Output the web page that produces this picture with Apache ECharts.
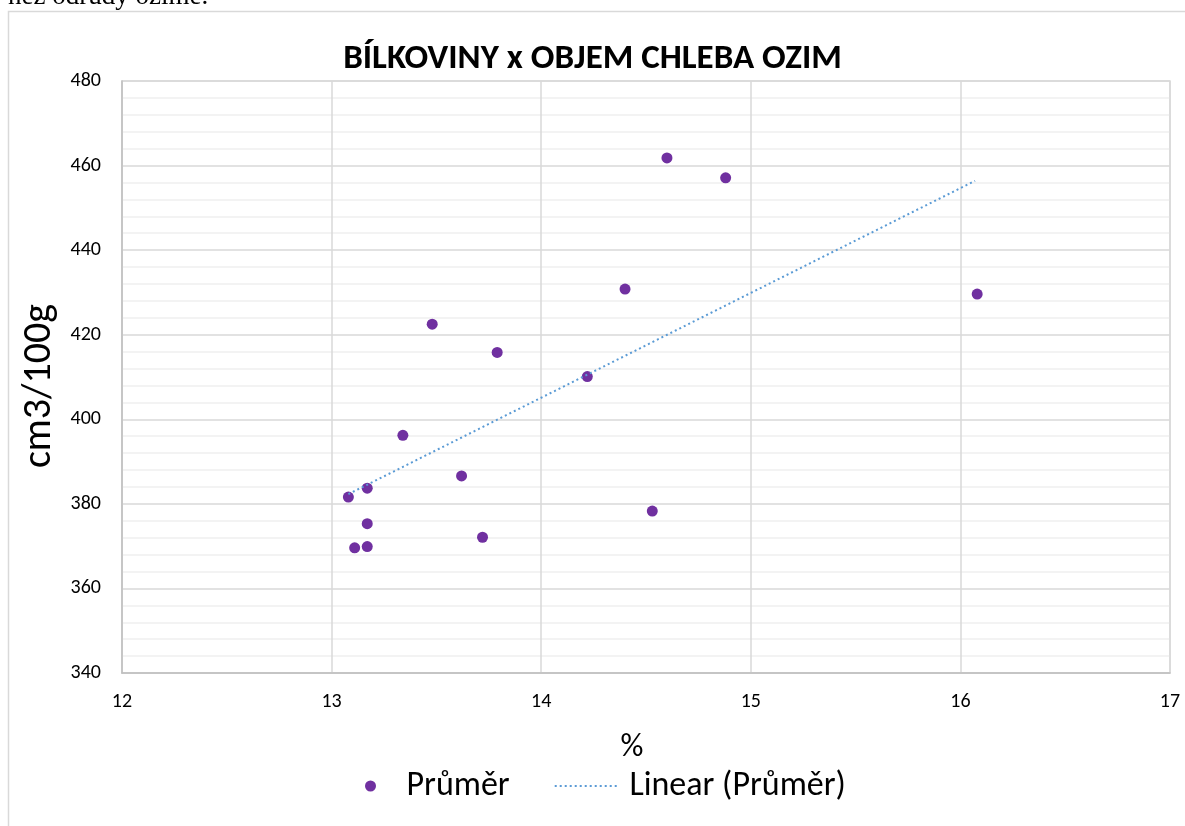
<!DOCTYPE html>
<html>
<head>
<meta charset="utf-8">
<script src="https://cdn.jsdelivr.net/npm/echarts@6/dist/echarts.min.js"></script>
<style>
  html, body { margin: 0; padding: 0; background: #fff; }
  #chart { width: 1185px; height: 826px; }
</style>
</head>
<body>
<div id="chart"></div>
<script>
// bílkoviny (%) a objem chleba (cm3/100g)
var proteinPct = [13.08, 13.17, 13.17, 13.11, 13.17, 13.34, 13.48, 13.62, 13.79, 14.22, 14.40, 14.53, 13.72, 14.60, 14.88, 16.08];
var breadVolume = [381.6, 383.7, 375.3, 369.6, 369.9, 396.2, 422.5, 386.6, 415.8, 410.1, 430.8, 378.3, 372.1, 461.8, 457.1, 429.6];
// koncové body lineárního trendu
var trendX = [13.08, 16.07];
var trendY = [382.3, 456.4];

var xTicks = [12, 13, 14, 15, 16, 17];
var yTicks = [340, 360, 380, 400, 420, 440, 460, 480];

var font = "Carlito, Lato, 'Noto Sans', sans-serif";

var chart = echarts.init(document.getElementById("chart"));

var points = proteinPct.map(function(x, i) { return [x, breadVolume[i]]; });
var trend = trendX.map(function(x, i) { return [x, trendY[i]]; });

// tečkovaná čárka do legendy
var dotIcon = "path://";
for (var d = 0; d <= 60; d += 5) {
  dotIcon += "M" + d + ",0h2v2h-2z ";
}

var option = {
  backgroundColor: "#fff",
  animation: false,
  textStyle: { fontFamily: font },
  title: {
    text: "BÍLKOVINY x OBJEM CHLEBA OZIM",
    left: "center",
    top: 37,
    textStyle: { fontSize: 35, fontWeight: "bold", color: "#000", fontFamily: font }
  },
  graphic: [
    {
      type: "rect",
      shape: { x: 8.5, y: 11.5, width: 1200, height: 900 },
      style: { fill: null, stroke: "#d9d9d9", lineWidth: 1.5 },
      silent: true
    },
    {
      type: "text",
      left: 8,
      top: -17,
      style: {
        text: "něž odrůdy ozimé.",
        font: "27px 'Liberation Serif', 'Times New Roman', serif",
        fill: "#000"
      },
      silent: true
    }
  ],
  legend: {
    data: [
      { name: "Průměr", icon: "circle" },
      { name: "Linear (Průměr)", icon: dotIcon }
    ],
    left: 360,
    top: 764,
    itemWidth: 62,
    itemHeight: 11,
    itemGap: 45,
    formatter: function(name) {
      return name === "Linear (Průměr)" ? " " + name : name;
    },
    textStyle: { fontSize: 34, color: "#000", fontFamily: font }
  },
  grid: {
    left: 122,
    top: 81,
    right: 15,
    bottom: 153,
    containLabel: false,
    show: true,
    borderColor: "#d9d9d9",
    borderWidth: 1.5
  },
  xAxis: {
    type: "value",
    min: xTicks[0],
    max: xTicks[xTicks.length - 1],
    interval: 1,
    name: "%",
    nameLocation: "middle",
    nameGap: 59,
    nameTextStyle: { fontSize: 32, color: "#000", fontFamily: font, padding: [0, 28, 0, 0] },
    axisLine: { show: true, lineStyle: { color: "#bfbfbf", width: 1.5 } },
    axisTick: { show: false },
    axisLabel: { fontSize: 20, color: "#000", margin: 19, fontFamily: font },
    splitLine: { show: true, lineStyle: { color: "#d9d9d9", width: 1.5 } }
  },
  yAxis: {
    type: "value",
    min: yTicks[0],
    max: yTicks[yTicks.length - 1],
    interval: 20,
    name: "cm3/100g",
    nameLocation: "middle",
    nameGap: 52,
    nameTextStyle: { fontSize: 40, color: "#000", fontFamily: font, padding: [0, 18, 0, 0] },
    axisLine: { show: true, lineStyle: { color: "#bfbfbf", width: 1.5 } },
    axisTick: { show: false },
    axisLabel: { fontSize: 20, color: "#000", margin: 21, fontFamily: font },
    splitLine: { show: true, lineStyle: { color: "#d9d9d9", width: 1.5 } },
    minorTick: { show: false, splitNumber: 5 },
    minorSplitLine: { show: true, lineStyle: { color: "#f0f0f0", width: 1.5 } }
  },
  series: [
    {
      name: "Průměr",
      type: "scatter",
      data: points,
      symbolSize: 11,
      itemStyle: { color: "#7030a0", opacity: 1 },
      z: 2
    },
    {
      name: "Linear (Průměr)",
      type: "line",
      data: trend,
      symbol: "none",
      silent: true,
      lineStyle: { color: "#5b9bd5", width: 2, type: [2, 3] },
      itemStyle: { color: "#5b9bd5" },
      z: 3
    }
  ]
};

chart.setOption(option);
</script>
</body>
</html>
